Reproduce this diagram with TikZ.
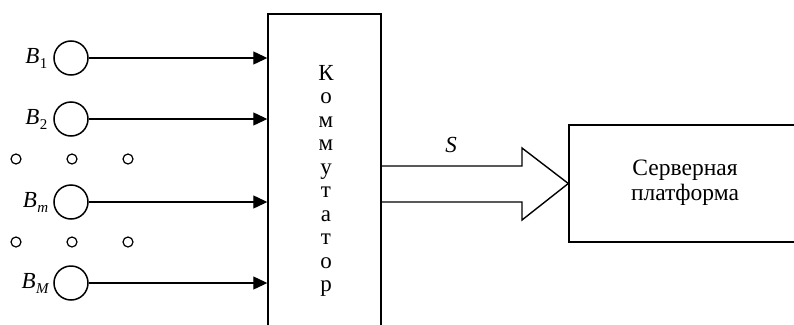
\documentclass[tikz,border=0pt]{standalone}
\usepackage{fontspec}
\setmainfont{Liberation Serif}
\usetikzlibrary{arrows.meta}
\newcommand{\Blab}[1]{\textit{B}\kern0.5pt{\fontsize{15}{15}\selectfont\raisebox{-5pt}{#1}}}
\begin{document}
\begin{tikzpicture}[x=1pt,y=-1pt,
  line width=1.4pt,
  src/.style={circle,draw,line width=1.5pt,minimum size=34pt,inner sep=0pt},
  dot/.style={circle,draw,line width=1.2pt,minimum size=10pt,inner sep=0pt},
  lab/.style={font=\fontsize{23}{23}\selectfont,anchor=east,inner sep=0pt},
  txt/.style={font=\fontsize{23.5}{25}\selectfont,align=center,inner sep=0pt},
  arr/.style={-{Triangle[length=14pt,width=13pt]},line width=1.2pt}]
\useasboundingbox (0,0) rectangle (794,324);
\clip (0,0) rectangle (794,324);
% commutator box
\node[draw,minimum width=113pt,minimum height=334pt,inner sep=0pt] (k) at (324.5,181) {};
\node[txt,font=\fontsize{23}{23.5}\selectfont] (kt) at (326,181) {К\\о\\м\\м\\у\\т\\а\\т\\о\\р};
% server box
\node[draw,minimum width=261pt,minimum height=117pt,inner sep=0pt] (s) at (699.5,183.5) {};
\node[txt] (st) at (685,183) {Серверная\\платформа};
% sources
\node[src] (b1) at (71,58) {};
\node[src] (b2) at (71,119) {};
\node[src] (bm) at (71,202) {};
\node[src] (bM) at (71,283) {};
\node[lab] (l1) at (48,58) {\Blab{1}};
\node[lab] (l2) at (48,119) {\Blab{2}};
\node[lab] (lm) at (49,202) {\Blab{\textit{m}}};
\node[lab] (lM) at (50,283) {\Blab{\textit{M}}};
% dots
\node[dot] (d1) at (16,159) {};
\node[dot] (d2) at (72,159) {};
\node[dot] (d3) at (128,159) {};
\node[dot] (d4) at (16,242) {};
\node[dot] (d5) at (72,242) {};
\node[dot] (d6) at (128,242) {};
% arrows
\draw[arr] (b1) -- (b1 -| k.west);
\draw[arr] (b2) -- (b2 -| k.west);
\draw[arr] (bm) -- (bm -| k.west);
\draw[arr] (bM) -- (bM -| k.west);
% big arrow
\draw[line width=1.4pt,line join=miter] (k.east |- 0,166) -- (522,166) -- (522,148) -- (s.west) -- (522,220) -- (522,202) -- (k.east |- 0,202);
\node[font=\fontsize{23}{23}\selectfont\itshape] (S) at (451,145) {S};
\end{tikzpicture}
\end{document}
